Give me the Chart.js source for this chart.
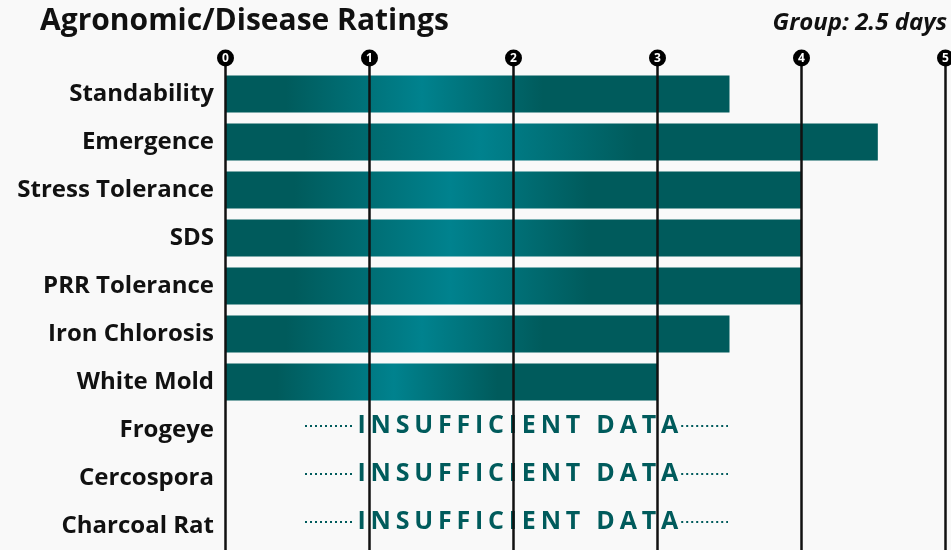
<!DOCTYPE html>
<html><head><meta charset="utf-8">
<script src="https://cdn.jsdelivr.net/npm/chart.js@4/dist/chart.umd.min.js"></script>
<style>html,body{margin:0;padding:0;background:#f9f9f9;}#wrap{width:951px;height:550px;position:relative}</style>
</head><body><div id="wrap"><canvas id="c"></canvas></div>
<script>
const categories = ['Standability','Emergence','Stress Tolerance','SDS','PRR Tolerance','Iron Chlorosis','White Mold','Frogeye','Cercospora','Charcoal Rat'];
const ratings = [3.5, 4.53, 4, 4, 4, 3.5, 3, null, null, null];
const tickValues = [0, 1, 2, 3, 4, 5];
const titleText = 'Agronomic/Disease Ratings';
const groupText = 'Group: 2.5 days';
const missingText = 'INSUFFICIENT DATA';

const DARK = '#005b5c';
const LIGHT = '#00828e';
const FONT = '"Open Sans", "Noto Sans", sans-serif';

function barGradient(ctx) {
  const chart = ctx.chart;
  if (!chart.chartArea || ctx.raw == null) return DARK;
  const xs = chart.scales.x;
  const x0 = xs.getPixelForValue(0), x1 = xs.getPixelForValue(ctx.raw);
  const g = chart.ctx.createLinearGradient(x0, 0, x1, 0);
  g.addColorStop(0, DARK);
  g.addColorStop(0.12, DARK);
  g.addColorStop(0.39, LIGHT);
  g.addColorStop(0.63, DARK);
  g.addColorStop(1, DARK);
  return g;
}

const decor = {
  id: 'decor',
  beforeDraw(chart) {
    const c = chart.ctx;
    c.save();
    c.fillStyle = '#f9f9f9';
    c.fillRect(0, 0, chart.width, chart.height);
    c.fillStyle = '#111';
    c.textBaseline = 'alphabetic';
    c.textAlign = 'left';
    c.font = 'bold 30px ' + FONT;
    c.fillText(titleText, 40, 30);
    c.textAlign = 'right';
    c.font = 'italic bold 24px ' + FONT;
    c.fillText(groupText, 947, 30);
    c.restore();
  },
  afterDatasetsDraw(chart) {
    const c = chart.ctx;
    const xs = chart.scales.x, ys = chart.scales.y;
    c.save();
    // category labels
    c.fillStyle = '#111';
    c.font = 'bold 24px ' + FONT;
    c.textAlign = 'right';
    c.textBaseline = 'middle';
    categories.forEach((lab, i) => c.fillText(lab, 214, ys.getPixelForValue(i)));
    // insufficient data markers
    ratings.forEach((v, i) => {
      if (v != null) return;
      const yc = ys.getPixelForValue(i) - 4;
      c.font = 'bold 25px ' + FONT;
      c.fillStyle = DARK;
      c.textBaseline = 'middle';
      c.textAlign = 'left';
      const spacing = 4.8;
      let total = 0;
      const chars = missingText.split('');
      chars.forEach((ch, k) => { total += c.measureText(ch).width + (k < chars.length - 1 ? spacing : 0); });
      const cx = xs.getPixelForValue(2.03);
      let x = cx - total / 2;
      const tStart = x;
      chars.forEach(ch => { c.fillText(ch, x, yc); x += c.measureText(ch).width + spacing; });
      const tEnd = x - spacing;
      c.strokeStyle = DARK;
      c.lineWidth = 2;
      c.setLineDash([2, 3]);
      c.beginPath();
      c.moveTo(305, yc); c.lineTo(tStart - 3, yc);
      c.moveTo(tEnd + 3, yc); c.lineTo(728, yc);
      c.stroke();
      c.setLineDash([]);
    });
    // gridlines with circle labels
    const topY = 58;
    tickValues.forEach(t => {
      const x = xs.getPixelForValue(t);
      c.strokeStyle = '#111';
      c.lineWidth = 2.5;
      c.beginPath();
      c.moveTo(x, topY);
      c.lineTo(x, chart.height);
      c.stroke();
      c.fillStyle = '#000';
      c.beginPath();
      c.arc(x, topY, 8.5, 0, Math.PI * 2);
      c.fill();
      c.fillStyle = '#fff';
      c.font = 'bold 12px ' + FONT;
      c.textAlign = 'center';
      c.textBaseline = 'middle';
      c.fillText(String(t), x, topY + 0.5);
    });
    c.restore();
  }
};

new Chart(document.getElementById('c'), {
  type: 'bar',
  data: {
    labels: categories,
    datasets: [{
      data: ratings,
      backgroundColor: barGradient,
      borderWidth: 0,
      categoryPercentage: 1,
      barPercentage: 0.77
    }]
  },
  options: {
    indexAxis: 'y',
    responsive: true,
    maintainAspectRatio: false,
    animation: false,
    layout: { padding: { top: 70, right: 5.5, left: 0, bottom: 0 } },
    plugins: { legend: { display: false }, tooltip: { enabled: false }, title: { display: false } },
    scales: {
      x: { min: 0, max: 5, display: false },
      y: {
        grid: { display: false },
        border: { display: false },
        ticks: { display: false },
        afterFit(s) { s.width = 225.5; }
      }
    }
  },
  plugins: [decor]
});
</script>
</body></html>
